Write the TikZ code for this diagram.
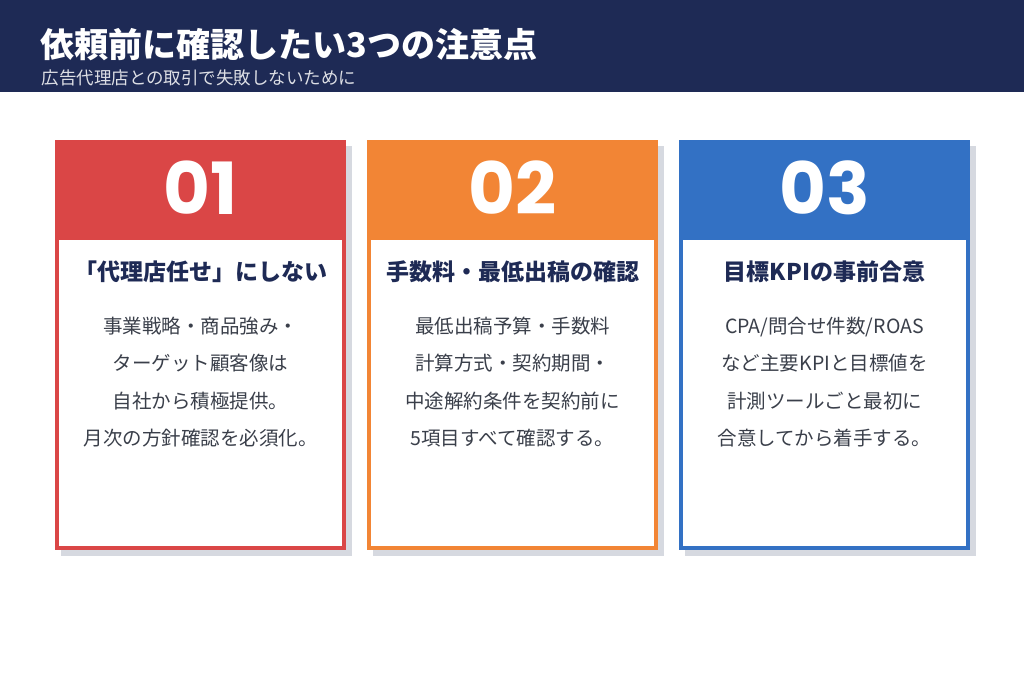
\documentclass[tikz,border=0pt]{standalone}
\usepackage{fontspec}
\setmainfont{Noto Sans CJK JP}
\newfontfamily\numf{Poppins Bold}
\definecolor{navy}{HTML}{1E2A55}
\definecolor{cred}{HTML}{DA4646}
\definecolor{corange}{HTML}{F28535}
\definecolor{cblue}{HTML}{3371C4}
\definecolor{shadowc}{HTML}{D6D9E0}
\definecolor{bodyc}{HTML}{3A3F4A}
\tikzset{
 x=1pt,y=-1pt,
 headtxt/.style={font=\fontsize{23}{26}\selectfont\bfseries, text=navy},
 bodytxt/.style={text=bodyc},
 numtxt/.style={font=\fontsize{72}{72}\selectfont\numf, text=white},
}
\newcommand{\card}[6]{%
 \fill[shadowc] (#1+6,146) rectangle (#1+297,556);
 \fill[#2] (#1,140) rectangle (#1+291,550);
 \fill[white] (#1+4,240) rectangle (#1+287,546);
 \node[numtxt] (n#3) at (#1+145.5,188) {#3};
 \node[headtxt] (h#3) at (#1+145.5,272) {#4};
 \node[bodytxt, align=center, font=\fontsize{19.5}{37.5}\selectfont] (b#3) at (#1+145.5,#6) {#5};
}
\begin{document}
\begin{tikzpicture}
\useasboundingbox (0,0) rectangle (1024,683);
\fill[white] (0,0) rectangle (1024,683);
\fill[navy] (0,0) rectangle (1024,92);
\node[anchor=west, text=white, font=\fontsize{34}{36}\selectfont\bfseries] (title) at (37,45) {依頼前に確認したい3つの注意点};
\node[anchor=west, text=white!85!navy, font=\fontsize{17.5}{20}\selectfont] (sub) at (38,78) {広告代理店との取引で失敗しないために};
\card{55}{cred}{01}{「代理店任せ」にしない}{事業戦略・商品強み・\\ターゲット顧客像は\\自社から積極提供。\\月次の方針確認を必須化。}{382}
\card{367}{corange}{02}{手数料・最低出稿の確認}{最低出稿予算・手数料\\計算方式・契約期間・\\中途解約条件を契約前に\\5項目すべて確認する。}{382}
\card{679}{cblue}{03}{目標KPIの事前合意}{CPA/問合せ件数/ROAS\\など主要KPIと目標値を\\計測ツールごと最初に\\合意してから着手する。}{382}
\end{tikzpicture}
\end{document}
